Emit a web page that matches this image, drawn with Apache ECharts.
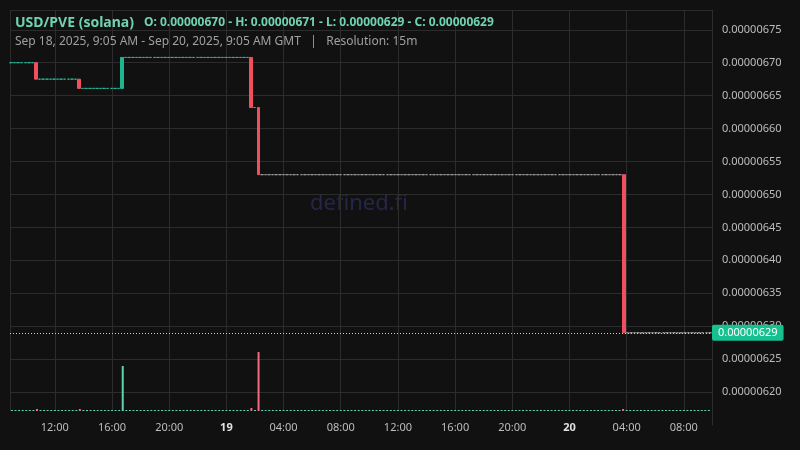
<!DOCTYPE html><html><head><meta charset="utf-8">
<script src="https://cdn.jsdelivr.net/npm/echarts@6/dist/echarts.min.js"></script>
<style>html,body{margin:0;background:#111111}#c{width:800px;height:450px}</style></head><body><div id="c"></div>
<script>
// prices in units of 1e-8 USD
const startTime = '2025-09-18T09:00:00Z';
const endTime = '2025-09-20T09:45:00Z';
const startPrice = 670.0;
// [time, open, close, high, low, volume]
const moves = [
  ['2025-09-18T10:45:00Z', 670.0, 667.5, 670.0, 667.5, 2],
  ['2025-09-18T13:45:00Z', 667.5, 666.1, 667.5, 666.1, 2],
  ['2025-09-18T16:45:00Z', 666.1, 670.8, 670.8, 666.1, 45],
  ['2025-09-19T01:45:00Z', 670.8, 663.2, 670.8, 663.2, 3],
  ['2025-09-19T02:15:00Z', 663.2, 653.0, 663.2, 653.0, 59],
  ['2025-09-20T03:45:00Z', 653.0, 629.0, 653.0, 629.0, 2]
];
const flatVolume = 1;
const lastPrice = 629;
const yTicks = [620,625,630,635,640,645,650,655,660,665,670,675];

const STEP = 15*60*1000;
const movesMap = {};
moves.forEach(m => movesMap[Date.parse(m[0])] = m);
const candles = [], vols = [];
let prev = startPrice;
for (let t = Date.parse(startTime); t <= Date.parse(endTime); t += STEP) {
  const m = movesMap[t];
  if (m) {
    const up = m[2] >= m[1];
    candles.push({value:[t, m[1], m[2], m[4], m[3]]});
    vols.push({value:[t, m[5]], itemStyle:{color: up ? '#5ed3b1' : '#f26a80'}});
    prev = m[2];
  } else {
    const grey = prev <= 653;
    candles.push({value:[t, prev, prev, prev, prev], itemStyle: grey ? {borderColorDoji:'#9a9a9a', borderColor:'#9a9a9a', color:'#9a9a9a'} : undefined});
    vols.push({value:[t, flatVolume], itemStyle:{color:'#5ed3b1'}});
  }
}
const xMin = Date.parse('2025-09-18T08:56:00Z'), xMax = Date.parse('2025-09-20T09:54:00Z');
const ch = echarts.init(document.getElementById('c'));
ch.setOption({
  backgroundColor:'#111111', animation:false,
  title:{left:10,top:9,text:'{a|USD/PVE (solana)}  {b|O: 0.00000670 - H: 0.00000671 - L: 0.00000629 - C: 0.00000629}',
    subtext:'Sep 18, 2025, 9:05 AM - Sep 20, 2025, 9:05 AM GMT   |   Resolution: 15m', itemGap:4,
    textStyle:{rich:{a:{fontFamily:'Noto Sans',fontSize:14,color:'#6fd3b3'},b:{fontFamily:'Noto Sans',fontSize:12,color:'#6fd3b3'}}},
    subtextStyle:{fontFamily:'Noto Sans',fontSize:12,color:'#a0a0a0'}},
  graphic:[{type:'text',left:310,top:193,z:0,style:{text:'defined.fi',fontFamily:'Noto Sans',fontSize:22,fill:'#26264a'}}],
  grid:[{left:10,right:88,top:10,height:415},{left:10,right:88,top:10,height:401}],
  xAxis:[
    {type:'time',gridIndex:0,min:xMin,max:xMax,show:false},
    {type:'time',gridIndex:1,min:xMin,max:xMax,minInterval:6*3600e3,maxInterval:6*3600e3,
      axisLine:{show:false},axisTick:{show:false},
      splitLine:{show:true,lineStyle:{color:'#2c2c2c'}},
      axisLabel:{fontFamily:'Noto Sans',fontSize:11,color:'#bdbdbd',margin:11,showMinLabel:false,showMaxLabel:false,
        formatter:v=>{const d=new Date(v);const h=d.getUTCHours();return h===0?'{d|'+d.getUTCDate()+'}':String(h).padStart(2,'0')+':00';},
        rich:{d:{fontWeight:'bold',color:'#e0e0e0',fontSize:11,fontFamily:'Noto Sans'}}}}
  ],
  yAxis:[
    {type:'value',gridIndex:0,position:'right',min:615,max:678,interval:5,
      axisLine:{show:true,lineStyle:{color:'#2c2c2c'}},axisTick:{show:false},
      splitLine:{show:true,showMinLine:false,lineStyle:{color:'#2c2c2c'}},
      axisLabel:{fontFamily:'Noto Sans',fontSize:11,color:'#bdbdbd',margin:10,showMinLabel:false,showMaxLabel:false,
        formatter:v=>yTicks.includes(v)?(v*1e-8).toFixed(8):''}},
    {type:'value',gridIndex:1,min:0,max:401,show:false}
  ],
  series:[
    {type:'bar',xAxisIndex:1,yAxisIndex:1,data:vols,barWidth:2,z:1},
    {type:'candlestick',xAxisIndex:0,yAxisIndex:0,data:candles,barWidth:3,z:3,
      itemStyle:{color:'#1fb58f',color0:'#f0505e',borderColor:'#1fb58f',borderColor0:'#f0505e',borderColorDoji:'#26b79a',borderWidth:1},
      markLine:{symbol:'none',silent:true,data:[{yAxis:lastPrice}],
        lineStyle:{color:'#cfcfcf',type:[1,2],width:1},
        label:{position:'end',distance:0,formatter:()=> (lastPrice*1e-8).toFixed(8),backgroundColor:'#17c08f',color:'#ffffff',
          fontFamily:'Noto Sans',fontSize:11,padding:[3,6,2,6],borderRadius:2}}}
  ]
});
</script></body></html>
